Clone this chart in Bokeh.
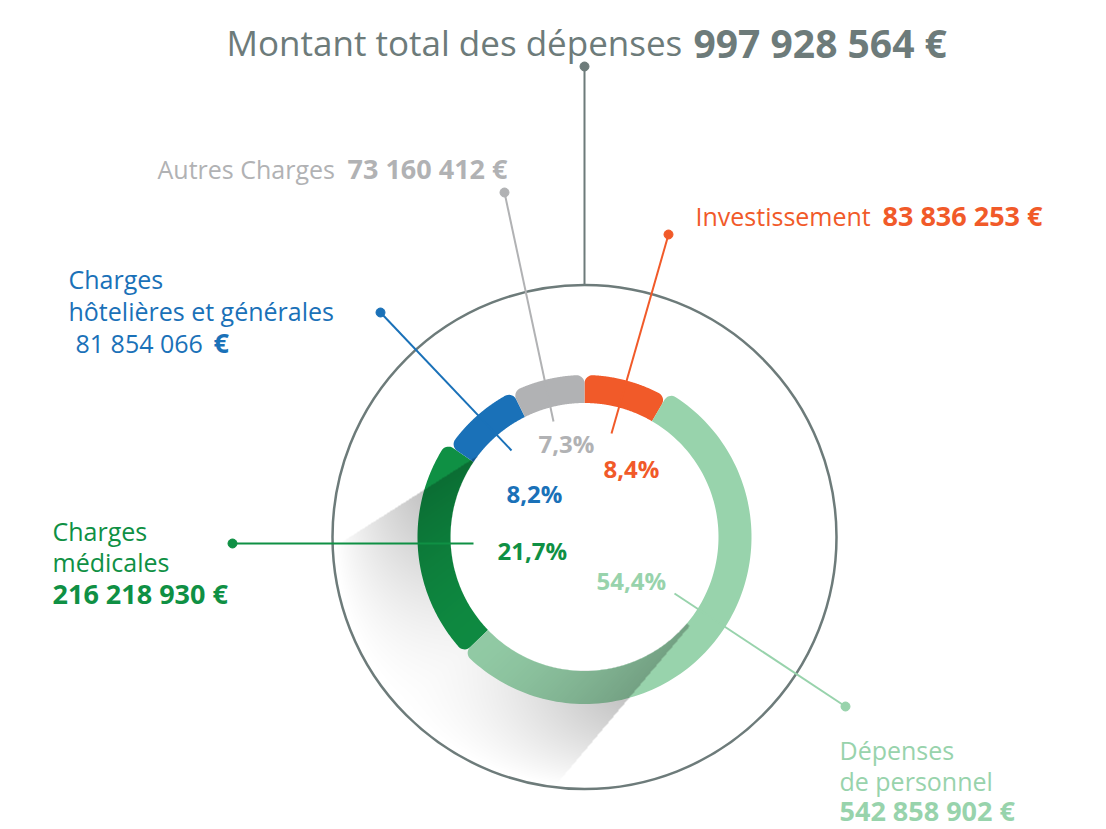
import numpy as np
from bokeh.plotting import figure
from bokeh.models import Range1d
from bokeh.core.properties import value
from bokeh.embed import file_html
from bokeh.resources import INLINE

# ---------------- data ----------------
categories = ["Investissement", "Dépenses de personnel", "Charges médicales",
              "Charges hôtelières et générales", "Autres Charges"]
amounts = [83836253, 542858902, 216218930, 81854066, 73160412]
pct_labels = ["8,4%", "54,4%", "21,7%", "8,2%", "7,3%"]
amount_labels = ["83 836 253 €", "542 858 902 €", "216 218 930 €", "81 854 066 €", "73 160 412 €"]
total_label = "997 928 564 €"
title_text = "Montant total des dépenses"

# ---------------- style ----------------
colors = ["#f15a29", "#98d3ac", "#0f9044", "#1a71b8", "#b1b2b4"]
outer_r = [162, 167, 167, 162, 162]
GREY = "#6d7b7a"
FONT = value("Open Sans")
LSIZE = "25px"
BSIZE = "27px"

W, H = 1104, 829
CX, CY = 584.0, 536.5
R_IN = 134.0
R_FRAME = 252.0

p = figure(width=W, height=H, x_range=Range1d(0, W), y_range=Range1d(H, 0),
           output_backend="svg", toolbar_location=None, min_border=0,
           x_axis_location=None, y_axis_location=None)
p.grid.visible = False
p.outline_line_color = None
p.background_fill_color = "white"
p.border_fill_color = "white"


def pt(r, a):
    t = np.radians(a)
    return CX + r * np.sin(t), CY - r * np.cos(t)


def corner(C, T, O, rc, n=10):
    a1 = np.arctan2(T[1] - C[1], T[0] - C[0])
    a2 = np.arctan2(O[1] - C[1], O[0] - C[0])
    d = (a2 - a1 + np.pi) % (2 * np.pi) - np.pi
    tt = np.linspace(0, 1, n)
    return list(C[0] + rc * np.cos(a1 + d * tt)), list(C[1] + rc * np.sin(a1 + d * tt))


def seg_poly(a0, a1, ri, ro, rc=8.0):
    xs, ys = [], []
    phi = np.degrees(rc / (ro - rc))
    x, y = pt(ri, a0); xs.append(x); ys.append(y)
    C0 = pt(ro - rc, a0 + phi)
    u0 = np.array([np.sin(np.radians(a0)), -np.cos(np.radians(a0))])
    proj = (C0[0] - CX) * u0[0] + (C0[1] - CY) * u0[1]
    T0 = (CX + proj * u0[0], CY + proj * u0[1])
    O0 = pt(ro, a0 + phi)
    cx_, cy_ = corner(C0, T0, O0, rc); xs += cx_; ys += cy_
    aa = np.linspace(a0 + phi, a1 - phi, 120)
    ox, oy = pt(ro, aa); xs += list(ox); ys += list(oy)
    C1 = pt(ro - rc, a1 - phi)
    u1 = np.array([np.sin(np.radians(a1)), -np.cos(np.radians(a1))])
    proj = (C1[0] - CX) * u1[0] + (C1[1] - CY) * u1[1]
    T1 = (CX + proj * u1[0], CY + proj * u1[1])
    O1 = pt(ro, a1 - phi)
    cx_, cy_ = corner(C1, O1, T1, rc); xs += cx_; ys += cy_
    aa = np.linspace(a1, a0, 120)
    ix, iy = pt(ri, aa); xs += list(ix); ys += list(iy)
    return xs, ys


# outer frame circle
p.circle(x=[CX], y=[CY], radius=R_FRAME, fill_color=None, line_color=GREY, line_width=2.5)

# ring segments from data
total = float(sum(amounts))
cum = np.cumsum([0] + amounts) / total * 360.0
order = [0, 2, 1, 3, 4]
for i in order:
    xs, ys = seg_poly(cum[i], cum[i + 1], R_IN, outer_r[i])
    p.patch(xs, ys, fill_color=colors[i], line_color=None)

# long shadow (decoration)
x0, x1, y0, y1 = 330, 840, 282, 792
gx = np.arange(x0, x1) + 0.5
gy = np.arange(y0, y1) + 0.5
X, Y = np.meshgrid(gx, gy)
dx, dy = X - CX, Y - CY
r = np.hypot(dx, dy)
P1, D1 = np.array([470.0, 460.0]), np.array([-0.845, 0.536])
P2, D2 = np.array([677.0, 640.0]), np.array([-0.644, 0.765])


def sdist(P, D):
    n = np.array([-D[1], D[0]])
    s = (CX - P[0]) * n[0] + (CY - P[1]) * n[1]
    if s < 0:
        n = -n
    return (X - P[0]) * n[0] + (Y - P[1]) * n[1]


dl = sdist(P1, D1)
dr = sdist(P2, D2)
dirv = np.array([-0.75, 0.66])
projc = dx * dirv[0] + dy * dirv[1]
inside = (dl >= 0) & (dr >= 0) & (projc >= -20) & (r >= R_IN) & (r <= R_FRAME - 1.5)
half = 0.5 * (dl + dr) + 1e-6
e = 1 - np.clip(np.minimum(dl, dr) / half, 0, 1)
g = 0.18 + 0.82 * e ** 1.5
h = np.clip((250 - r) / (250 - 167), 0, 1)
alpha = np.where(inside, 0.24 * g * h, 0.0)
img = np.zeros((y1 - y0, x1 - x0, 4), dtype=np.uint8)
img[..., 3] = (alpha * 255).astype(np.uint8)
p.image_rgba(image=[img.view(dtype=np.uint32).reshape((y1 - y0, x1 - x0))],
             x=x0, y=y0, dw=x1 - x0, dh=y1 - y0)

# leader lines and dots
p.line([CX, CX], [66, CY - R_FRAME], line_color=GREY, line_width=2)
p.scatter([CX], [66], size=9, color=GREY)
lead_start = [(668, 234), (845, 706), (232, 543), (380, 312), (504, 192)]
lead_end = [(611, 433), (674, 593), (473, 543), (511, 450), (553, 421)]
for i in range(5):
    (xa, ya), (xb, yb) = lead_start[i], lead_end[i]
    p.line([xa, xb], [ya, yb], line_color=colors[i], line_width=2)
    p.scatter([xa], [ya], size=9, color=colors[i])


def txt(x, y, s, col, size=LSIZE, bold=False, align="left"):
    p.text(x=[x], y=[y], text=[s], text_font=FONT, text_font_size=size,
           text_font_style="bold" if bold else "normal", text_color=col,
           text_align=align, text_baseline="alphabetic")


# percent labels
pct_pos = [(603, 468), (596, 580), (497, 550), (506, 493), (538, 443)]
for i in range(5):
    txt(pct_pos[i][0], pct_pos[i][1], pct_labels[i], colors[i], size="24px", bold=True)

# title
txt(226, 42, title_text, GREY, size="35px")
txt(693, 42, total_label, GREY, size="39px", bold=True)

# Autres Charges
txt(157, 168, categories[4], colors[4])
txt(347, 168, amount_labels[4], colors[4], size=BSIZE, bold=True)
# Investissement
txt(695, 215, categories[0], colors[0])
txt(882, 215, amount_labels[0], colors[0], size=BSIZE, bold=True)
# Charges hôtelières et générales
txt(68, 278, "Charges", colors[3])
txt(68, 310, "hôtelières et générales", colors[3])
txt(75, 342, amount_labels[3][:-2], colors[3])
txt(213, 342, "€", colors[3], size=BSIZE, bold=True)
# Charges médicales
txt(52, 530, "Charges", colors[2])
txt(52, 561, "médicales", colors[2])
txt(52, 593, amount_labels[2], colors[2], size=BSIZE, bold=True)
# Dépenses de personnel
txt(839, 749, "Dépenses", colors[1])
txt(839, 780, "de personnel", colors[1])
txt(839, 810, amount_labels[1], colors[1], size=BSIZE, bold=True)

open("out.html", "w").write(file_html(p, INLINE))
